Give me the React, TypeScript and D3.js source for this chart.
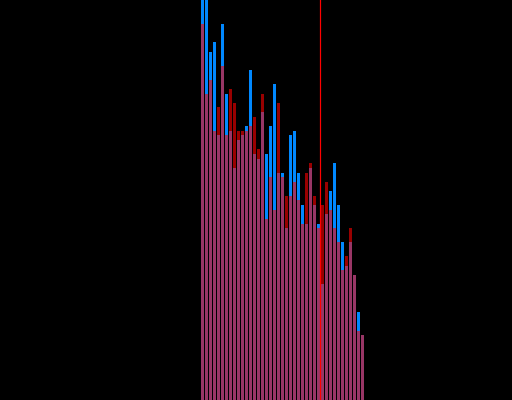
import { useEffect, useRef } from 'react';
import * as d3 from 'd3';

// bin index for each bar (41 bins)
const bins = d3.range(41);

// blue histogram counts (first two bins run past the top)
const blueCounts = [420, 410, 348, 358, 265, 376, 306, 269, 232, 260, 265, 274, 330, 246, 241, 288, 246, 274, 316, 227, 227, 172, 265, 269, 227, 195, 176, 232, 195, 176, 116, 186, 209, 237, 195, 158, 134, 158, 125, 88, 65];

// red histogram counts
const redCounts = [376, 306, 320, 269, 293, 334, 265, 311, 297, 269, 269, 269, 274, 283, 251, 306, 181, 223, 190, 297, 223, 204, 204, 218, 200, 176, 227, 237, 204, 172, 195, 218, 190, 172, 158, 130, 144, 172, 125, 69, 65];

// vertical marker, in bin units
const markerBin = 29.875;

export default function App() {
  const chartRef = useRef<SVGSVGElement | null>(null);

  useEffect(() => {
    document.body.style.margin = '0';
    if (!chartRef.current) return;

    const width = 512;
    const height = 400;

    const svg = d3.select(chartRef.current);
    svg.selectAll('*').remove();

    svg.append('rect')
      .attr('width', width)
      .attr('height', height)
      .attr('fill', '#000');

    const x = d3.scaleBand<number>()
      .domain(bins)
      .range([201, 364])
      .paddingInner(0.25)
      .paddingOuter(0);

    const binPos = d3.scaleLinear()
      .domain([0, bins.length])
      .range([201, 365]);

    const y = d3.scaleLinear()
      .domain([0, 400])
      .range([height, 0]);

    // blue bars underneath
    svg.append('g')
      .selectAll('rect')
      .data(blueCounts)
      .enter()
      .append('rect')
      .attr('x', (d, i) => x(i)!)
      .attr('y', d => y(d))
      .attr('width', x.bandwidth())
      .attr('height', d => height - y(d))
      .attr('fill', '#0088ff');

    // red bars on top, translucent
    svg.append('g')
      .selectAll('rect')
      .data(redCounts)
      .enter()
      .append('rect')
      .attr('x', (d, i) => x(i)!)
      .attr('y', d => y(d))
      .attr('width', x.bandwidth())
      .attr('height', d => height - y(d))
      .attr('fill', '#ff0000')
      .attr('fill-opacity', 0.6);

    // marker line
    svg.append('line')
      .attr('x1', binPos(markerBin))
      .attr('x2', binPos(markerBin))
      .attr('y1', 0)
      .attr('y2', height)
      .attr('stroke', '#ff0000')
      .attr('stroke-width', 1.2);
  }, []);

  return <svg ref={chartRef} width={512} height={400} style={{ display: 'block' }} />;
}
